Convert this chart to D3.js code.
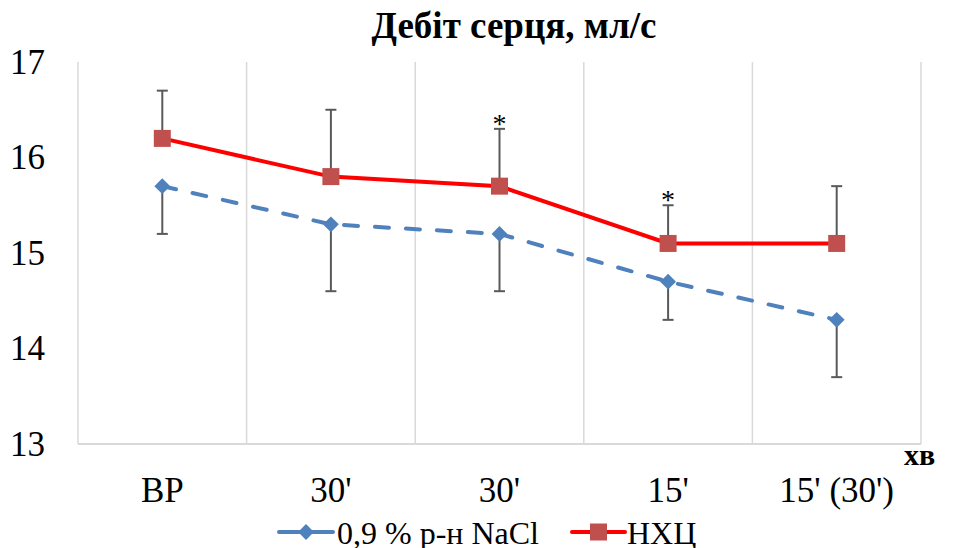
<!DOCTYPE html>
<html>
<head>
<meta charset="utf-8">
<script src="https://cdn.jsdelivr.net/npm/d3@7"></script>
</head>
<body style="margin:0">
<div id="chart"></div>
<script>
var categories = ["ВР", "30'", "30'", "15'", "15' (30')"];
var nacl = [15.7, 15.3, 15.2, 14.7, 14.3];
var naclErr = [0.5, 0.7, 0.6, 0.4, 0.6];     // shown below the point
var nhc = [16.2, 15.8, 15.7, 15.1, 15.1];
var nhcErr = [0.5, 0.7, 0.6, 0.4, 0.6];      // shown above the point
var nhcMarks = ["", "", "*", "*", ""];
var yTicks = [13, 14, 15, 16, 17];

var W = 953, H = 548;
var margin = {top: 62, right: 32, bottom: 104, left: 78},
    width = W - margin.left - margin.right,
    height = H - margin.top - margin.bottom;

var svg = d3.select("#chart").append("svg")
    .attr("width", W)
    .attr("height", H);

var g = svg.append("g")
    .attr("transform", "translate(" + margin.left + "," + margin.top + ")");

var x = d3.scaleBand().domain(d3.range(categories.length)).range([0, width]).padding(0);
var y = d3.scaleLinear().domain([13, 17]).range([height, 0]);
var cx = function(i) { return x(i) + x.bandwidth() / 2; };

function serif(sel, size) {
    return sel.style("font-family", "'Liberation Serif', 'Times New Roman', serif")
        .style("font-size", size + "px")
        .attr("fill", "#000");
}

// vertical gridlines at the category borders
var edges = d3.range(categories.length).map(function(i) { return x(i); }).concat([width]);
g.append("g").selectAll("line")
    .data(edges)
    .enter().append("line")
    .attr("x1", function(d) { return d; })
    .attr("x2", function(d) { return d; })
    .attr("y1", 0)
    .attr("y2", height)
    .attr("stroke", "#d9d9d9")
    .attr("stroke-width", 1.5);

g.append("line")
    .attr("x1", 0).attr("x2", width)
    .attr("y1", height).attr("y2", height)
    .attr("stroke", "#d9d9d9")
    .attr("stroke-width", 2);

// axis labels from the scales
g.append("g").selectAll("text")
    .data(yTicks)
    .enter().append("text")
    .attr("x", -33)
    .attr("y", function(d) { return y(d); })
    .attr("dy", "0.33em")
    .attr("text-anchor", "end")
    .call(serif, 35)
    .text(d3.format("d"));

g.append("g").selectAll("text")
    .data(categories)
    .enter().append("text")
    .attr("x", function(d, i) { return cx(i); })
    .attr("y", height + 58)
    .attr("text-anchor", "middle")
    .call(serif, 35)
    .text(function(d) { return d; });

svg.append("text")
    .attr("x", 904)
    .attr("y", 465)
    .call(serif, 30)
    .style("font-weight", "bold")
    .text("хв");

// title
svg.append("text")
    .attr("x", 514)
    .attr("y", 38)
    .attr("text-anchor", "middle")
    .call(serif, 37)
    .style("font-weight", "bold")
    .text("Дебіт серця, мл/с");

function errorBars(vals, errs, dir) {
    var eg = g.append("g").attr("stroke", "#595959").attr("stroke-width", 2);
    eg.selectAll(".stem")
        .data(vals)
        .enter().append("line")
        .attr("x1", function(d, i) { return cx(i); })
        .attr("x2", function(d, i) { return cx(i); })
        .attr("y1", function(d) { return y(d); })
        .attr("y2", function(d, i) { return y(d + dir * errs[i]); });
    eg.selectAll(".cap")
        .data(vals)
        .enter().append("line")
        .attr("x1", function(d, i) { return cx(i) - 5.5; })
        .attr("x2", function(d, i) { return cx(i) + 5.5; })
        .attr("y1", function(d, i) { return y(d + dir * errs[i]); })
        .attr("y2", function(d, i) { return y(d + dir * errs[i]); });
}

var line = d3.line()
    .x(function(d, i) { return cx(i); })
    .y(function(d) { return y(d); });

// series 1 : NaCl
errorBars(nacl, naclErr, -1);
g.append("path")
    .datum(nacl)
    .attr("d", line)
    .attr("fill", "none")
    .attr("stroke", "#4f81bd")
    .attr("stroke-width", 4)
    .attr("stroke-linecap", "round")
    .attr("stroke-dasharray", "14,17");
var diamond = d3.symbol().type(d3.symbolDiamond2).size(160);
g.selectAll(".dia")
    .data(nacl)
    .enter().append("path")
    .attr("d", diamond)
    .attr("transform", function(d, i) { return "translate(" + cx(i) + "," + y(d) + ")"; })
    .attr("fill", "#4f81bd");

// series 2 : НХЦ
errorBars(nhc, nhcErr, 1);
g.append("path")
    .datum(nhc)
    .attr("d", line)
    .attr("fill", "none")
    .attr("stroke", "#ff0000")
    .attr("stroke-width", 4);
g.selectAll(".sq")
    .data(nhc)
    .enter().append("rect")
    .attr("x", function(d, i) { return cx(i) - 8.5; })
    .attr("y", function(d) { return y(d) - 8.5; })
    .attr("width", 17)
    .attr("height", 17)
    .attr("fill", "#c0504d");

g.selectAll(".star")
    .data(nhc)
    .enter().append("text")
    .attr("x", function(d, i) { return cx(i); })
    .attr("y", function(d, i) { return y(d + nhcErr[i]) + 4; })
    .attr("text-anchor", "middle")
    .call(serif, 28)
    .text(function(d, i) { return nhcMarks[i]; });

// legend
var legend = svg.append("g");
var l1 = legend.append("g").attr("transform", "translate(279,532)");
l1.append("line").attr("x1", 0).attr("x2", 54).attr("stroke", "#4f81bd").attr("stroke-width", 4).attr("stroke-linecap", "round");
l1.append("path").attr("d", diamond).attr("transform", "translate(27,0)").attr("fill", "#4f81bd");
l1.append("text").attr("x", 58).attr("y", 12).call(serif, 32).text("0,9 % р-н NaCl");

var l2 = legend.append("g").attr("transform", "translate(572,532)");
l2.append("line").attr("x1", 0).attr("x2", 53).attr("stroke", "#ff0000").attr("stroke-width", 4).attr("stroke-linecap", "round");
l2.append("rect").attr("x", 18).attr("y", -8.5).attr("width", 17).attr("height", 17).attr("fill", "#c0504d");
l2.append("text").attr("x", 55).attr("y", 12).call(serif, 32).text("НХЦ");
</script>
</body>
</html>
